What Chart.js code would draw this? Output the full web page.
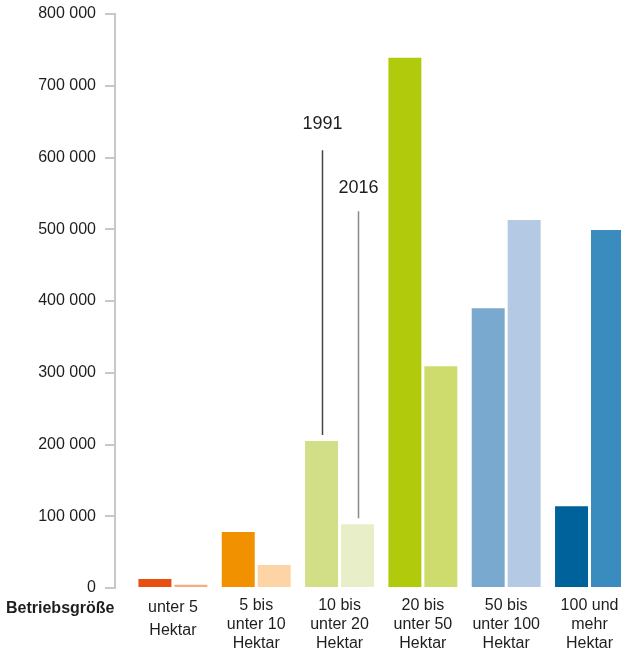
<!DOCTYPE html>
<html lang="de">
<head>
<meta charset="utf-8">
<title>Betriebe nach Größe</title>
<script src="https://cdn.jsdelivr.net/npm/chart.js@4/dist/chart.umd.min.js"></script>
<style>
  html, body { margin: 0; padding: 0; background: #fff; overflow: hidden; }
  #wrap { position: relative; width: 621px; height: 652px; }
</style>
</head>
<body>
<div id="wrap"><canvas id="betriebe"></canvas></div>
<script>
// Größenklassen (Hektar) und Flächen je Jahr
const sizeClasses = [
  ['unter 5', 'Hektar'],
  ['5 bis', 'unter 10', 'Hektar'],
  ['10 bis', 'unter 20', 'Hektar'],
  ['20 bis', 'unter 50', 'Hektar'],
  ['50 bis', 'unter 100', 'Hektar'],
  ['100 und', 'mehr', 'Hektar']
];
const years = ['1991', '2016'];
const values1991 = [12500, 78000, 205000, 739000, 390000, 114000];
const values2016 = [4500, 32000, 89000, 309000, 513000, 499000];
const yTicks = [0, 100000, 200000, 300000, 400000, 500000, 600000, 700000, 800000];

const colors1991 = ['#e84e0f', '#f29100', '#d3df86', '#b1ca0b', '#7aa9cf', '#00629a'];
const colors2016 = ['#f4ac80', '#fdd5a5', '#e8efc8', '#cddc6c', '#b3c9e4', '#3a8bbe'];

const textColor = '#1e1e1e';
const axisColor = '#c8c8c8';

const fmt = v => String(v).replace(/\B(?=(\d{3})+(?!\d))/g, ' ');

// Beschriftung der Jahre über der Klasse 10 bis unter 20 Hektar
const yearMarks = [
  { dataset: 0, index: 2, textAt: 646000, lineTop: 610000, color: '#444' },
  { dataset: 1, index: 2, textAt: 557000, lineTop: 525000, color: '#888' }
];

const extras = {
  id: 'extras',
  afterDatasetsDraw(chart) {
    const { ctx, chartArea, scales } = chart;
    ctx.save();
    yearMarks.forEach(m => {
      const bar = chart.getDatasetMeta(m.dataset).data[m.index];
      const x = Math.round(bar.x) + 0.5;
      ctx.strokeStyle = m.color;
      ctx.lineWidth = 1.5;
      ctx.beginPath();
      ctx.moveTo(x, scales.y.getPixelForValue(m.lineTop));
      ctx.lineTo(x, bar.y - 6);
      ctx.stroke();
      ctx.fillStyle = textColor;
      ctx.font = '18px "Liberation Sans", Arial, sans-serif';
      ctx.textAlign = 'center';
      ctx.textBaseline = 'middle';
      ctx.fillText(years[m.dataset], x, scales.y.getPixelForValue(m.textAt));
    });
    ctx.fillStyle = textColor;
    ctx.font = 'bold 16px "Liberation Sans", Arial, sans-serif';
    ctx.textAlign = 'left';
    ctx.textBaseline = 'middle';
    ctx.fillText('Betriebsgröße', 6, chartArea.bottom + 21);
    ctx.restore();
  }
};

new Chart(document.getElementById('betriebe'), {
  type: 'bar',
  data: {
    datasets: [
      {
        label: years[0],
        data: values1991.map((v, i) => ({ x: i, y: v })),
        backgroundColor: colors1991
      },
      {
        label: years[1],
        data: values2016.map((v, i) => ({ x: i, y: v })),
        backgroundColor: colors2016
      }
    ]
  },
  options: {
    responsive: true,
    maintainAspectRatio: false,
    animation: false,
    categoryPercentage: 0.863,
    barPercentage: 0.917,
    layout: { padding: { top: 14, left: 0, right: 0, bottom: 0 } },
    plugins: {
      legend: { display: false },
      tooltip: { enabled: false }
    },
    scales: {
      x: {
        type: 'linear',
        offset: false,
        min: -0.695,
        max: 5.378,
        afterBuildTicks: s => { s.ticks = sizeClasses.map((_, i) => ({ value: i })); },
        afterFit: s => {
          s.height = 64;
          s.paddingLeft = 0;
          s.paddingRight = 0;
        },
        grid: { display: false, drawTicks: false },
        border: { display: false },
        ticks: {
          autoSkip: false,
          maxRotation: 0,
          padding: 8,
          color: textColor,
          font: c => ({
            family: '"Liberation Sans", Arial, sans-serif',
            size: 16,
            lineHeight: c.index === 0 ? 1.46 : 1.2
          }),
          callback: v => sizeClasses[v]
        }
      },
      y: {
        min: 0,
        max: 800000,
        afterBuildTicks: s => { s.ticks = yTicks.map(v => ({ value: v })); },
        afterFit: s => {
          s.width = 115;
          s.paddingTop = 0;
          s.paddingBottom = 0;
        },
        grid: {
          drawOnChartArea: false,
          color: axisColor,
          lineWidth: 2,
          tickLength: 10
        },
        border: { display: true, color: axisColor, width: 2 },
        ticks: {
          padding: 9,
          color: textColor,
          font: { family: '"Liberation Sans", Arial, sans-serif', size: 16 },
          callback: v => fmt(v)
        }
      }
    }
  },
  plugins: [extras]
});
</script>
</body>
</html>
